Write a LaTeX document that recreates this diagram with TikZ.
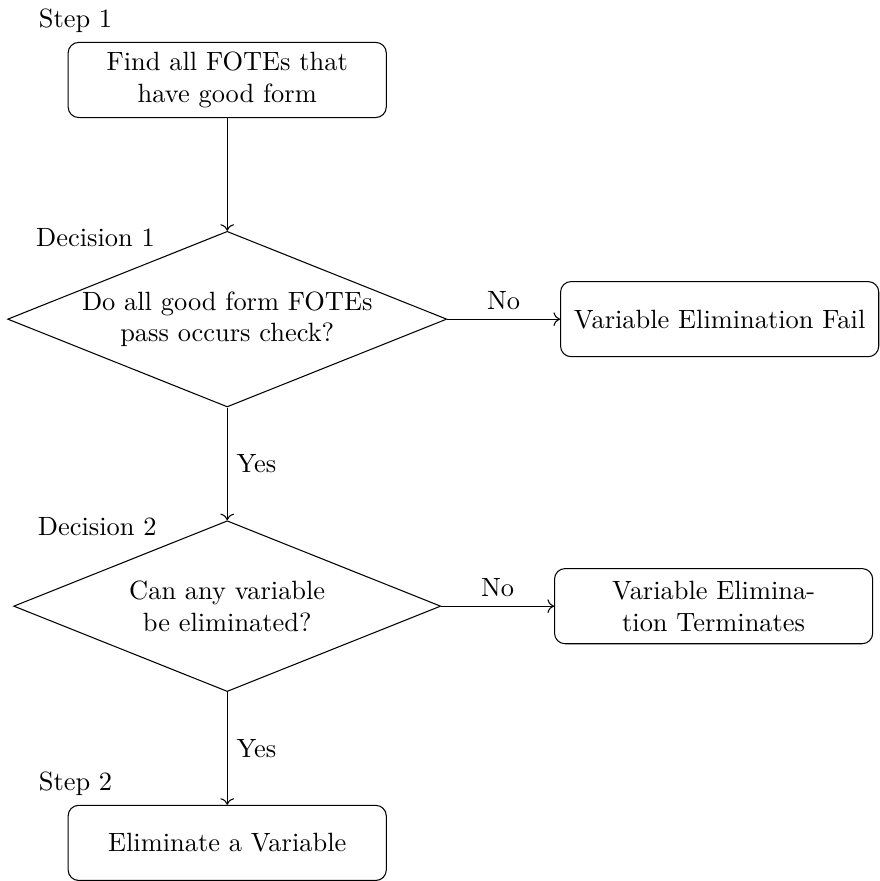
\documentclass[tikz,border=0pt]{standalone}
\usepackage{tikz}
\usetikzlibrary{arrows.meta,positioning,shapes.geometric,calc}

\begin{document}
\begin{tikzpicture}[
  process/.style={draw,rounded corners=4pt,minimum height=1cm,text width=4cm,align=center},
  decision/.style={draw,diamond,aspect=2.5,inner sep=0pt,text width=4cm,align=center},
  arr/.style={->},
  steplabel/.style={anchor=south,xshift=3pt}
]
  % Steps and decisions
  \node[process,label={[steplabel]north west:Step 1}] (find) {Find all FOTEs that have good form};
  \node[decision,below=1.5cm of find,label=above left:Decision 1] (check) {Do all good form FOTEs pass occurs check?};
  \node[process,right=1.5cm of check] (fail) {Variable Elimination Fail};
  \node[decision,below=1.5cm of check,label=above left:Decision 2] (canelim) {Can any variable be eliminated?};
  \node[process,right=1.5cm of canelim] (term) {Variable Elimination Terminates};
  \node[process,below=1.5cm of canelim,label={[steplabel]north west:Step 2}] (elim) {Eliminate a Variable};

  % Connectors
  \draw[arr] (find) -- (check);
  \draw[arr] (check) -- node[above] {No} (fail);
  \draw[arr] (check) -- node[right] {Yes} (canelim);
  \draw[arr] (canelim) -- node[above] {No} (term);
  \draw[arr] (canelim) -- node[right] {Yes} (elim);

  \useasboundingbox ($(find.center)+(-3.024,1.061)$) rectangle ++(11.565,-11.684);
\end{tikzpicture}
\end{document}
